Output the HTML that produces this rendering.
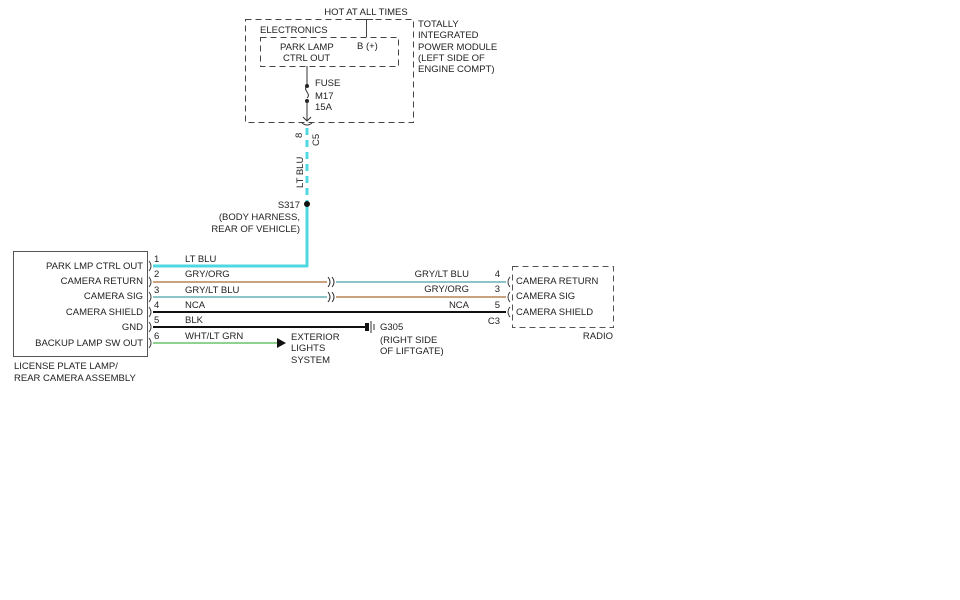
<!DOCTYPE html>
<html><head><meta charset="utf-8"><style>
html,body{margin:0;padding:0;background:#fff;width:960px;height:600px;overflow:hidden}
svg{display:block}
text{font-family:"Liberation Sans",sans-serif;font-size:9.5px;fill:#222}
</style></head><body>
<svg width="960" height="600" viewBox="0 0 960 600" xmlns="http://www.w3.org/2000/svg">
<text x="366" y="15" text-anchor="middle">HOT AT ALL TIMES</text>
<rect x="245.5" y="19.5" width="168" height="103" fill="none" stroke="#444" stroke-dasharray="6,4"/>
<rect x="260.5" y="37.5" width="138" height="29" fill="none" stroke="#444" stroke-dasharray="6,4"/>
<line x1="366.5" y1="19" x2="366.5" y2="37" stroke="#444"/>
<line x1="360" y1="19.5" x2="373" y2="19.5" stroke="#444"/>
<text x="260" y="33">ELECTRONICS</text>
<text x="280" y="50">PARK LAMP</text>
<text x="283" y="61">CTRL OUT</text>
<text x="357" y="49">B (+)</text>
<text x="418" y="27">TOTALLY</text>
<text x="418" y="38">INTEGRATED</text>
<text x="418" y="50">POWER MODULE</text>
<text x="418" y="61">(LEFT SIDE OF</text>
<text x="418" y="72">ENGINE COMPT)</text>
<line x1="307" y1="66" x2="307" y2="86" stroke="#333"/>
<circle cx="307" cy="86" r="2" fill="#222"/>
<path d="M307 86 C302 90, 312 94, 307 98" fill="none" stroke="#333"/>
<circle cx="307" cy="101" r="2" fill="#222"/>
<line x1="307" y1="101" x2="307" y2="121" stroke="#333"/>
<path d="M303 117 L307 121 L311 117" fill="none" stroke="#333"/>
<path d="M302 123 Q307 127 312 123" fill="none" stroke="#333"/>
<text x="302" y="138" transform="rotate(-90 302 138)" text-anchor="start">8</text>
<text x="319" y="146" transform="rotate(-90 319 146)">C5</text>
<text x="303" y="188" transform="rotate(-90 303 188)">LT BLU</text>
<text x="315" y="86">FUSE</text>
<text x="315" y="99">M17</text>
<text x="315" y="110">15A</text>
<line x1="307" y1="128" x2="307" y2="204" stroke="#4fd8e0" stroke-width="3" stroke-dasharray="7,5"/>
<line x1="307" y1="204" x2="307" y2="267" stroke="#4fd8e0" stroke-width="3"/>
<circle cx="307" cy="204" r="3" fill="#111"/>
<text x="300" y="208" text-anchor="end">S317</text>
<text x="300" y="220" text-anchor="end">(BODY HARNESS,</text>
<text x="300" y="232" text-anchor="end">REAR OF VEHICLE)</text>
<rect x="13.5" y="251.5" width="134" height="105" fill="none" stroke="#555"/>
<g text-anchor="end">
<text x="143" y="269">PARK LMP CTRL OUT</text>
<text x="143" y="284">CAMERA RETURN</text>
<text x="143" y="299">CAMERA SIG</text>
<text x="143" y="315">CAMERA SHIELD</text>
<text x="143" y="330">GND</text>
<text x="143" y="346">BACKUP LAMP SW OUT</text>
</g>
<g fill="none" stroke="#444">
<path d="M149 261 Q153 266 149 271"/><path d="M149 277 Q153 282 149 287"/>
<path d="M149 292 Q153 297 149 302"/><path d="M149 307 Q153 312 149 317"/>
<path d="M149 322 Q153 327 149 332"/><path d="M149 338 Q153 343 149 348"/>
</g>
<text x="154" y="262">1</text><text x="154" y="277">2</text><text x="154" y="293">3</text>
<text x="154" y="308">4</text><text x="154" y="323">5</text><text x="154" y="339">6</text>
<text x="185" y="262">LT BLU</text><text x="185" y="277">GRY/ORG</text><text x="185" y="293">GRY/LT BLU</text>
<text x="185" y="308">NCA</text><text x="185" y="323">BLK</text><text x="185" y="339">WHT/LT GRN</text>
<line x1="153" y1="266" x2="308" y2="266" stroke="#4fd8e0" stroke-width="3"/>
<line x1="153" y1="282" x2="327" y2="282" stroke="#c9a27f" stroke-width="2"/>
<line x1="336" y1="282" x2="506" y2="282" stroke="#8cc4c8" stroke-width="2"/>
<line x1="153" y1="297" x2="327" y2="297" stroke="#8cc4c8" stroke-width="2"/>
<line x1="336" y1="297" x2="506" y2="297" stroke="#c9a27f" stroke-width="2"/>
<line x1="153" y1="312" x2="506" y2="312" stroke="#111" stroke-width="2"/>
<line x1="153" y1="327" x2="365" y2="327" stroke="#111" stroke-width="2"/>
<line x1="153" y1="343" x2="278" y2="343" stroke="#90d090" stroke-width="2"/>
<path d="M277 338 L286 343 L277 348 Z" fill="#111"/>
<g fill="none" stroke="#333">
<path d="M328 277 Q332 282 328 287"/><path d="M332 277 Q336 282 332 287"/>
<path d="M328 292 Q332 297 328 302"/><path d="M332 292 Q336 297 332 302"/>
<path d="M510 277 Q506 282 510 287"/><path d="M510 292 Q506 297 510 302"/><path d="M510 307 Q506 312 510 317"/>
</g>
<rect x="365" y="323" width="4" height="8" fill="#111"/>
<line x1="371" y1="321" x2="371" y2="333" stroke="#333"/>
<line x1="374" y1="324" x2="374" y2="330" stroke="#333"/>
<text x="380" y="330">G305</text>
<text x="380" y="343">(RIGHT SIDE</text>
<text x="380" y="354">OF LIFTGATE)</text>
<text x="291" y="340">EXTERIOR</text>
<text x="291" y="351">LIGHTS</text>
<text x="291" y="363">SYSTEM</text>
<text x="14" y="369">LICENSE PLATE LAMP/</text>
<text x="14" y="381">REAR CAMERA ASSEMBLY</text>
<g text-anchor="end">
<text x="469" y="277">GRY/LT BLU</text><text x="469" y="292">GRY/ORG</text><text x="469" y="308">NCA</text>
<text x="500" y="277">4</text><text x="500" y="292">3</text><text x="500" y="308">5</text>
<text x="500" y="324">C3</text>
<text x="613" y="339">RADIO</text>
</g>
<rect x="512.5" y="266.5" width="101" height="61" fill="none" stroke="#555" stroke-dasharray="6,4"/>
<text x="516" y="284">CAMERA RETURN</text>
<text x="516" y="299">CAMERA SIG</text>
<text x="516" y="315">CAMERA SHIELD</text>
</svg>
</body></html>
